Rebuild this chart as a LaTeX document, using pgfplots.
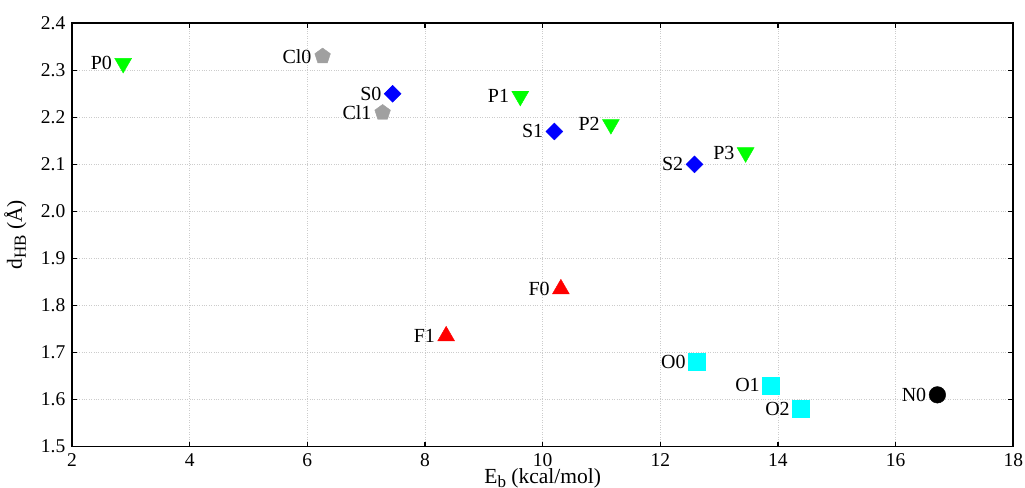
\documentclass[border=0pt]{standalone}
\usepackage{fontspec}
\setmainfont{Liberation Serif}
\usepackage{pgfplots}
\pgfplotsset{compat=1.18}
\definecolor{mgray}{RGB}{160,160,160}
\definecolor{mgreen}{RGB}{0,255,0}
\definecolor{mblue}{RGB}{0,0,255}
\definecolor{mred}{RGB}{255,0,0}
\definecolor{mcyan}{RGB}{0,255,255}
\pgfplotsset{lbl/.style={only marks, nodes near coords, point meta=explicit symbolic,
  every node near coord/.append style={anchor=east, xshift=-11pt, text=black, inner sep=0pt,
  font=\fontsize{20}{24}\selectfont}}}
\newcommand{\sub}[1]{\raisebox{-4pt}{\fontsize{17}{20}\selectfont #1}}
\begin{document}
\fontsize{19.5}{23}\selectfont
\begin{tikzpicture}
\begin{axis}[
  scale only axis, width=941.6pt, height=423.4pt,
  xmin=2, xmax=18, ymin=1.5, ymax=2.4,
  xtick={2,4,6,8,10,12,14,16,18},
  ytick={1.5,1.6,1.7,1.8,1.9,2.0,2.1,2.2,2.3,2.4},
  yticklabel style={/pgf/number format/.cd, fixed, fixed zerofill, precision=1},
  /pgf/number format/assume math mode=true,
  ticklabel style={font=\fontsize{19.5}{23}\selectfont},
  label style={font=\fontsize{21.5}{25}\selectfont},
  grid=major, major grid style={dotted, line width=0.55pt, black!20},
  axis line style={line width=1.8pt},
  tick style={line width=1.5pt, black}, major tick length=5pt,
  tick align=inside,
  xlabel={E\sub{b} (kcal/mol)},
  ylabel={d\sub{HB} (Å)},
  xlabel style={at={(axis description cs:0.5,0)}, anchor=base, yshift=-37.2pt},
  ylabel style={at={(axis description cs:-0.0531,0.5)}, anchor=base},
]
\addplot[lbl, mark=triangle*, mark size=9.8pt, color=mgreen, mark options={yshift=2.4pt, rotate=180}] table[meta=label] {
x y label
2.87 2.31 P0
9.62 2.24 P1
11.16 2.18 P2
13.45 2.12 P3
};
\addplot[lbl, mark=pentagon*, mark size=8.2pt, color=mgray] table[meta=label] {
x y label
6.26 2.33 Cl0
7.28 2.21 Cl1
};
\addplot[lbl, mark=square*, mark size=6pt, color=mblue, mark options={rotate=45}] table[meta=label] {
x y label
7.45 2.25 S0
10.20 2.17 S1
12.58 2.10 S2
};
\addplot[lbl, mark=triangle*, mark size=9.8pt, color=mred, mark options={yshift=-2.4pt}] table[meta=label] {
x y label
10.31 1.84 F0
8.36 1.74 F1
};
\addplot[lbl, mark=square*, mark size=8.5pt, color=mcyan] table[meta=label] {
x y label
12.62 1.68 O0
13.88 1.63 O1
14.39 1.58 O2
};
\addplot[lbl, mark=*, mark size=8.3pt, color=black] table[meta=label] {
x y label
16.71 1.61 N0
};
\end{axis}
\pgfresetboundingbox
\path[use as bounding box] ([shift={(-72pt,-41.3pt)}]current axis.south west) rectangle ([shift={(11.7pt,23.3pt)}]current axis.north east);
\end{tikzpicture}
\end{document}
